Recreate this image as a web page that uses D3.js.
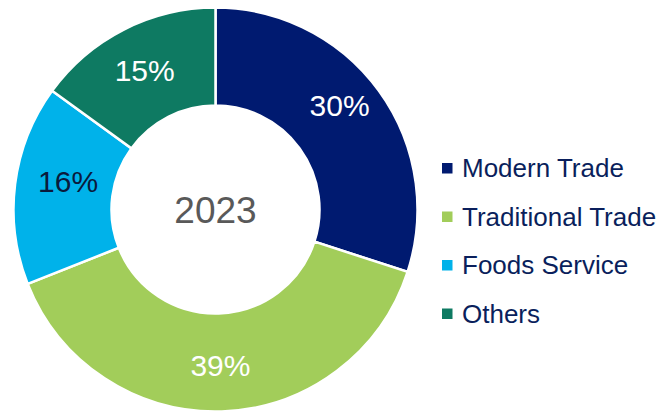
<!DOCTYPE html>
<html>
<head>
<meta charset="utf-8">
<script src="https://cdn.jsdelivr.net/npm/d3@7"></script>
<style>
	body { margin: 0; background: #fff; }
	svg { display: block; font-family: "Liberation Sans", Arial, sans-serif; }
</style>
</head>
<body>
<div id="chart"></div>
<script>
	// data
	const categories = ["Modern Trade", "Traditional Trade", "Foods Service", "Others"];
	const shares = [30, 39, 16, 15];
	const centerLabel = "2023";

	const colors = ["#001a70", "#a2cd5a", "#00b2ea", "#0e7a62"];
	const labelColors = ["#fff", "#fff", "#0a1a3c", "#fff"];
	// small tweaks to where the office tool dropped the labels: [degrees, px radius]
	const labelNudge = { "Modern Trade": [-4, 6], "Foods Service": [3.5, -6] };

	const width = 666, height = 412;
	const cx = 215.5, cy = 209.5;
	const outerR = 202, innerR = 104, labelR = 156;

	let svg = d3.select("#chart").append("svg")
		.attr("width", width)
		.attr("height", height);

	let g = svg.append("g")
		.attr("transform", "translate(" + cx + "," + cy + ")");

	let pie = d3.pie().sort(null).value(function (d) { return d; });
	let arcs = pie(shares);

	let arc = d3.arc().innerRadius(innerR).outerRadius(outerR);

	g.selectAll("path.slice")
		.data(arcs)
		.enter().append("path")
		.attr("class", "slice")
		.attr("d", arc)
		.attr("fill", function (d, i) { return colors[i]; })
		.attr("stroke", "#fff")
		.attr("stroke-width", 2.5);

	// percentage labels, on the slice centroid
	g.selectAll("text.pct")
		.data(arcs)
		.enter().append("text")
		.attr("class", "pct")
		.attr("transform", function (d, i) {
			let n = labelNudge[categories[i]] || [0, 0];
			let a = (d.startAngle + d.endAngle) / 2 + n[0] * Math.PI / 180;
			let r = labelR + n[1];
			return "translate(" + (r * Math.sin(a)) + "," + (-r * Math.cos(a)) + ")";
		})
		.attr("dy", "0.36em")
		.attr("text-anchor", "middle")
		.attr("font-size", 30)
		.attr("fill", function (d, i) { return labelColors[i]; })
		.text(function (d) { return d.data + "%"; });

	g.append("text")
		.attr("dy", "0.36em")
		.attr("text-anchor", "middle")
		.attr("font-size", 37)
		.attr("fill", "#595959")
		.text(centerLabel);

	// legend
	let legend = svg.append("g")
		.attr("transform", "translate(442,168)");

	let row = legend.selectAll("g.item")
		.data(categories)
		.enter().append("g")
		.attr("class", "item")
		.attr("transform", function (d, i) { return "translate(0," + (i * 48.5) + ")"; });

	row.append("rect")
		.attr("x", 0)
		.attr("y", -5)
		.attr("width", 10.5)
		.attr("height", 10.5)
		.attr("fill", function (d, i) { return colors[i]; });

	row.append("text")
		.attr("x", 20)
		.attr("dy", "0.36em")
		.attr("font-size", 26)
		.attr("fill", "#0a1f5c")
		.text(function (d) { return d; });
</script>
</body>
</html>
